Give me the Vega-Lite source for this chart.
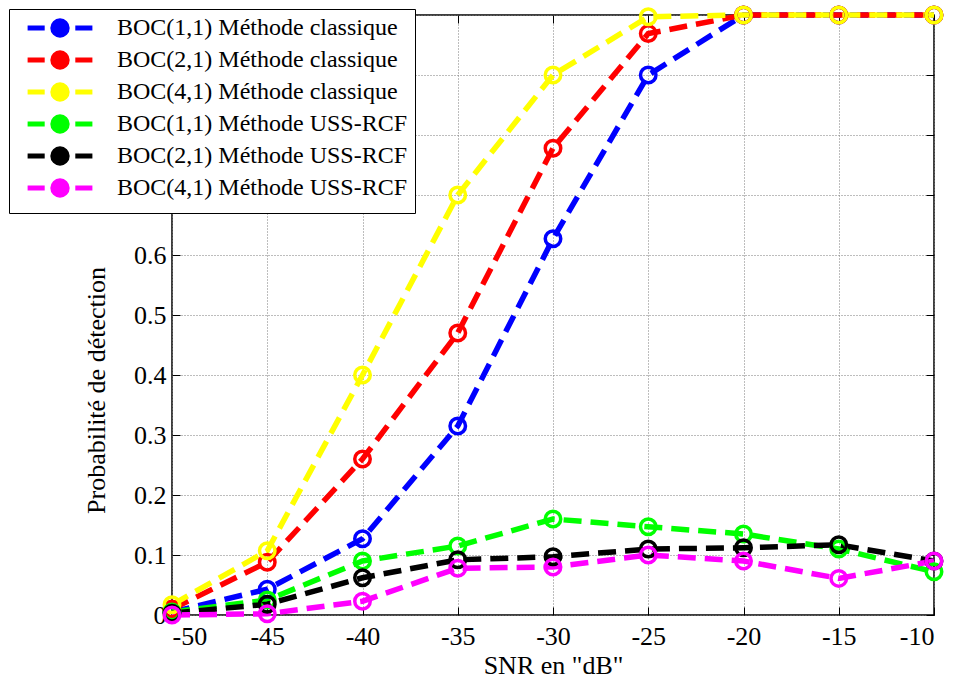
{
  "$schema": "https://vega.github.io/schema/vega-lite/v6.json",
  "width": 762,
  "height": 600,
  "autosize": {"type": "none"},
  "padding": {"left": 172, "top": 15, "right": 19, "bottom": 64},
  "background": "white",
  "config": {
    "font": "Liberation Serif",
    "view": {"stroke": "black", "strokeWidth": 1.5},
    "axis": {
      "labelFont": "Liberation Serif",
      "titleFont": "Liberation Serif",
      "labelFontSize": 26,
      "titleFontSize": 26,
      "labelColor": "black",
      "titleColor": "black",
      "titleFontWeight": "normal",
      "labelOverlap": false,
      "domain": false,
      "tickColor": "black",
      "tickWidth": 1,
      "gridColor": "#7a7a7a",
      "gridDash": [1, 2],
      "gridWidth": 1,
      "gridOpacity": 1
    }
  },
  "data": {
    "values": [
      {"snr": -50, "pd": 0.005, "serie": "BOC(1,1) Méthode classique"},
      {"snr": -45, "pd": 0.043, "serie": "BOC(1,1) Méthode classique"},
      {"snr": -40, "pd": 0.127, "serie": "BOC(1,1) Méthode classique"},
      {"snr": -35, "pd": 0.315, "serie": "BOC(1,1) Méthode classique"},
      {"snr": -30, "pd": 0.627, "serie": "BOC(1,1) Méthode classique"},
      {"snr": -25, "pd": 0.9, "serie": "BOC(1,1) Méthode classique"},
      {"snr": -20, "pd": 1.0, "serie": "BOC(1,1) Méthode classique"},
      {"snr": -15, "pd": 1.0, "serie": "BOC(1,1) Méthode classique"},
      {"snr": -10, "pd": 1.0, "serie": "BOC(1,1) Méthode classique"},
      {"snr": -50, "pd": 0.01, "serie": "BOC(2,1) Méthode classique"},
      {"snr": -45, "pd": 0.088, "serie": "BOC(2,1) Méthode classique"},
      {"snr": -40, "pd": 0.26, "serie": "BOC(2,1) Méthode classique"},
      {"snr": -35, "pd": 0.47, "serie": "BOC(2,1) Méthode classique"},
      {"snr": -30, "pd": 0.778, "serie": "BOC(2,1) Méthode classique"},
      {"snr": -25, "pd": 0.969, "serie": "BOC(2,1) Méthode classique"},
      {"snr": -20, "pd": 1.0, "serie": "BOC(2,1) Méthode classique"},
      {"snr": -15, "pd": 1.0, "serie": "BOC(2,1) Méthode classique"},
      {"snr": -10, "pd": 1.0, "serie": "BOC(2,1) Méthode classique"},
      {"snr": -50, "pd": 0.017, "serie": "BOC(4,1) Méthode classique"},
      {"snr": -45, "pd": 0.107, "serie": "BOC(4,1) Méthode classique"},
      {"snr": -40, "pd": 0.4, "serie": "BOC(4,1) Méthode classique"},
      {"snr": -35, "pd": 0.7, "serie": "BOC(4,1) Méthode classique"},
      {"snr": -30, "pd": 0.9, "serie": "BOC(4,1) Méthode classique"},
      {"snr": -25, "pd": 0.997, "serie": "BOC(4,1) Méthode classique"},
      {"snr": -20, "pd": 1.0, "serie": "BOC(4,1) Méthode classique"},
      {"snr": -15, "pd": 1.0, "serie": "BOC(4,1) Méthode classique"},
      {"snr": -10, "pd": 1.0, "serie": "BOC(4,1) Méthode classique"},
      {"snr": -50, "pd": 0.005, "serie": "BOC(1,1) Méthode USS-RCF"},
      {"snr": -45, "pd": 0.025, "serie": "BOC(1,1) Méthode USS-RCF"},
      {"snr": -40, "pd": 0.09, "serie": "BOC(1,1) Méthode USS-RCF"},
      {"snr": -35, "pd": 0.115, "serie": "BOC(1,1) Méthode USS-RCF"},
      {"snr": -30, "pd": 0.16, "serie": "BOC(1,1) Méthode USS-RCF"},
      {"snr": -25, "pd": 0.147, "serie": "BOC(1,1) Méthode USS-RCF"},
      {"snr": -20, "pd": 0.135, "serie": "BOC(1,1) Méthode USS-RCF"},
      {"snr": -15, "pd": 0.11, "serie": "BOC(1,1) Méthode USS-RCF"},
      {"snr": -10, "pd": 0.072, "serie": "BOC(1,1) Méthode USS-RCF"},
      {"snr": -50, "pd": 0.003, "serie": "BOC(2,1) Méthode USS-RCF"},
      {"snr": -45, "pd": 0.018, "serie": "BOC(2,1) Méthode USS-RCF"},
      {"snr": -40, "pd": 0.062, "serie": "BOC(2,1) Méthode USS-RCF"},
      {"snr": -35, "pd": 0.092, "serie": "BOC(2,1) Méthode USS-RCF"},
      {"snr": -30, "pd": 0.097, "serie": "BOC(2,1) Méthode USS-RCF"},
      {"snr": -25, "pd": 0.11, "serie": "BOC(2,1) Méthode USS-RCF"},
      {"snr": -20, "pd": 0.112, "serie": "BOC(2,1) Méthode USS-RCF"},
      {"snr": -15, "pd": 0.117, "serie": "BOC(2,1) Méthode USS-RCF"},
      {"snr": -10, "pd": 0.09, "serie": "BOC(2,1) Méthode USS-RCF"},
      {"snr": -50, "pd": 0.0, "serie": "BOC(4,1) Méthode USS-RCF"},
      {"snr": -45, "pd": 0.002, "serie": "BOC(4,1) Méthode USS-RCF"},
      {"snr": -40, "pd": 0.023, "serie": "BOC(4,1) Méthode USS-RCF"},
      {"snr": -35, "pd": 0.078, "serie": "BOC(4,1) Méthode USS-RCF"},
      {"snr": -30, "pd": 0.08, "serie": "BOC(4,1) Méthode USS-RCF"},
      {"snr": -25, "pd": 0.1, "serie": "BOC(4,1) Méthode USS-RCF"},
      {"snr": -20, "pd": 0.09, "serie": "BOC(4,1) Méthode USS-RCF"},
      {"snr": -15, "pd": 0.061, "serie": "BOC(4,1) Méthode USS-RCF"},
      {"snr": -10, "pd": 0.09, "serie": "BOC(4,1) Méthode USS-RCF"}
    ]
  },
  "resolve": {"axis": {"x": "independent", "y": "independent"}},
  "layer": [
    {
      "mark": {"type": "line", "strokeWidth": 5.5, "strokeDash": [18, 9], "clip": false},
      "encoding": {
        "x": {
          "field": "snr", "type": "quantitative",
          "scale": {"domain": [-50, -10], "nice": false, "zero": false},
          "axis": {
            "title": "SNR en \"dB\"",
            "values": [-50, -45, -40, -35, -30, -25, -20, -15, -10],
            "labelExpr": "'' + datum.value",
            "labelFont": "Liberation Serif",
            "grid": true,
            "tickSize": -8,
            "labelPadding": 16,
            "titlePadding": 3
          }
        },
        "y": {
          "field": "pd", "type": "quantitative",
          "scale": {"domain": [0, 1], "nice": false},
          "axis": {
            "title": "Probabilité de détection",
            "values": [0, 0.1, 0.2, 0.3, 0.4, 0.5, 0.6, 0.7, 0.8, 0.9, 1],
            "labelExpr": "datum.value > 0.65 ? '' : '' + datum.value",
            "labelFont": "Liberation Serif",
            "grid": true,
            "tickSize": -8,
            "labelPadding": 14,
            "titlePadding": 24,
            "titleY": 375
          }
        },
        "color": {
          "field": "serie", "type": "nominal",
          "scale": {
            "domain": ["BOC(1,1) Méthode classique", "BOC(2,1) Méthode classique", "BOC(4,1) Méthode classique", "BOC(1,1) Méthode USS-RCF", "BOC(2,1) Méthode USS-RCF", "BOC(4,1) Méthode USS-RCF"],
            "range": ["#0000ff", "#ff0000", "#ffff00", "#00ff00", "#000000", "#ff00ff"]
          },
          "legend": {
            "orient": "none",
            "legendX": -163,
            "legendY": -6,
            "title": null,
            "fillColor": "white",
            "strokeColor": "black",
            "cornerRadius": 0,
            "padding": 7,
            "labelFont": "Liberation Serif",
            "labelFontSize": 24,
            "labelLimit": 0,
            "labelColor": "black",
            "symbolType": "M-0.8,0 A0.8,0.8 0 1,1 0.8,0 A0.8,0.8 0 1,1 -0.8,0 M-3.6,0 L-1.7,0 M1.7,0 L3.6,0",
            "symbolSize": 324,
            "symbolStrokeWidth": 5,
            "symbolOffset": 32,
            "labelOffset": 45,
            "rowPadding": -4,
            "encode": {
              "symbols": {"update": {"fill": {"scale": "color", "field": "value"}, "fillOpacity": {"value": 1}}}
            }
          }
        }
      }
    },
    {
      "mark": {"type": "point", "shape": "circle", "filled": false, "size": 240, "strokeWidth": 3.5, "opacity": 1, "clip": false},
      "encoding": {
        "x": {
          "field": "snr", "type": "quantitative",
          "axis": {
            "orient": "top", "title": null, "labels": false, "grid": false,
            "values": [-50, -45, -40, -35, -30, -25, -20, -15, -10],
            "tickSize": -8
          }
        },
        "y": {
          "field": "pd", "type": "quantitative",
          "axis": {
            "orient": "right", "title": null, "labels": false, "grid": false,
            "values": [0, 0.1, 0.2, 0.3, 0.4, 0.5, 0.6, 0.7, 0.8, 0.9, 1],
            "tickSize": -8
          }
        },
        "color": {"field": "serie", "type": "nominal"}
      }
    }
  ]
}
